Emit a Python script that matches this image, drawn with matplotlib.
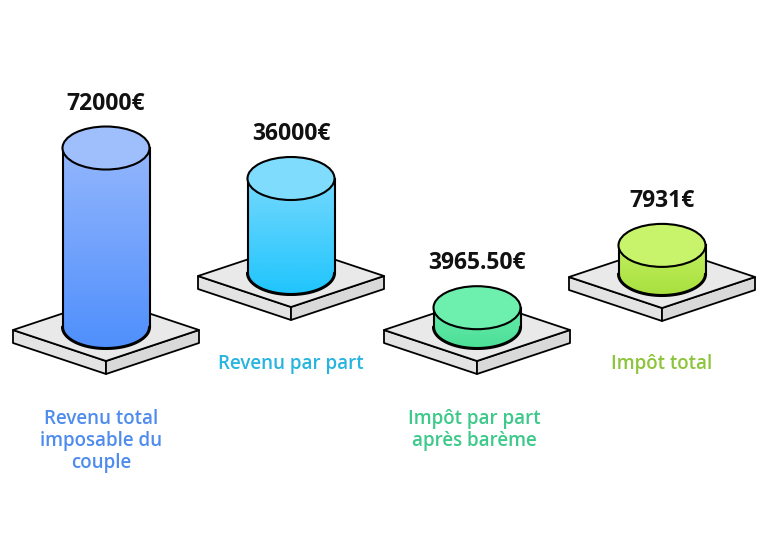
import numpy as np
import matplotlib
matplotlib.use("Agg")
import matplotlib.pyplot as plt
from matplotlib.patches import Polygon, Ellipse, PathPatch
from matplotlib.path import Path
from matplotlib.colors import to_rgb

# data
values = [72000, 36000, 3965.50, 7931]
value_labels = ["72000€", "36000€", "3965.50€", "7931€"]
categories = ["Revenu total\nimposable du\ncouple", "Revenu par part",
              "Impôt par part\naprès barème", "Impôt total"]
top_colors = ["#9ebefc", "#7fdcfc", "#6df0ae", "#c8f46c"]
body_top = ["#93b6fc", "#74d8fd", "#64eca9", "#c0f05f"]
body_bottom = ["#4f8ffc", "#20c5fd", "#4ddf97", "#a9e03f"]
label_colors = ["#4f8cee", "#28b4e0", "#3cc98a", "#8cc43a"]

# layout (pixels)
plat_x = [106, 291, 477, 662]
plat_y = [330, 276, 330, 277]
cat_y = [441, 364, 430, 364]
cat_x = [101, 291, 474, 662]
W, H, T = 93, 31, 13
RX, RY = 43.5, 21.5
base_h, px_per_euro = 10, 0.002347

fig = plt.figure(figsize=(7.68, 5.48), dpi=100)
ax = fig.add_axes([0, 0, 1, 1])
ax.set_xlim(0, 768)
ax.set_ylim(548, 0)
ax.axis("off")

font = "Open Sans"

for i, v in enumerate(values):
    cx, cy = plat_x[i], plat_y[i]
    # platform
    top = [(cx - W, cy), (cx, cy - H), (cx + W, cy), (cx, cy + H)]
    left = [(cx - W, cy), (cx, cy + H), (cx, cy + H + T), (cx - W, cy + T)]
    right = [(cx, cy + H), (cx + W, cy), (cx + W, cy + T), (cx, cy + H + T)]
    for pts, c in [(left, "#e3e3e3"), (right, "#d9d9d9"), (top, "#e9e9e9")]:
        ax.add_patch(Polygon(pts, closed=True, fc=c, ec="black", lw=1.3, zorder=2, joinstyle="round"))

    # cylinder
    h = base_h + px_per_euro * v
    yb = cy - 3
    yt = yb - h
    t = np.linspace(0, np.pi, 60)
    arc = np.column_stack([cx - RX * np.cos(t), yb + RY * np.sin(t)])
    verts = np.vstack([[cx - RX, yt], arc, [cx + RX, yt], [cx - RX, yt]])
    body = Path(verts, closed=True)
    clip = PathPatch(body, fc="none", ec="none", transform=ax.transData)
    ax.add_patch(clip)
    grad = np.linspace(0, 1, 200)[:, None, None]
    c0 = np.array(to_rgb(body_top[i]))
    c1 = np.array(to_rgb(body_bottom[i]))
    img = c0 * (1 - grad) + c1 * grad
    im = ax.imshow(img, extent=(cx - RX, cx + RX, yb + RY, yt), origin="upper",
                   aspect="auto", zorder=3, interpolation="bilinear")
    im.set_clip_path(clip)
    ax.plot([cx - RX, cx - RX], [yt, yb], color="black", lw=1.5, zorder=4)
    ax.plot([cx + RX, cx + RX], [yt, yb], color="black", lw=1.5, zorder=4)
    ax.plot(arc[:, 0], arc[:, 1], color="black", lw=2.2, zorder=4, solid_capstyle="round")
    ax.add_patch(Ellipse((cx, yt), 2 * RX, 2 * RY, fc=top_colors[i], ec="black", lw=1.5, zorder=5))

    ax.text(cx, yt - RY - 23, value_labels[i], ha="center", va="center",
            fontsize=16.5, fontweight="bold", family=font, color="#111111", zorder=6)
    ax.text(cat_x[i], cat_y[i], categories[i], ha="center", va="center",
            fontsize=13.5, fontweight="semibold", family=font, color=label_colors[i],
            linespacing=1.13, zorder=6)

ax.set_xlim(0, 768)
ax.set_ylim(548, 0)
fig.savefig("out.png", dpi=100, facecolor="white")
